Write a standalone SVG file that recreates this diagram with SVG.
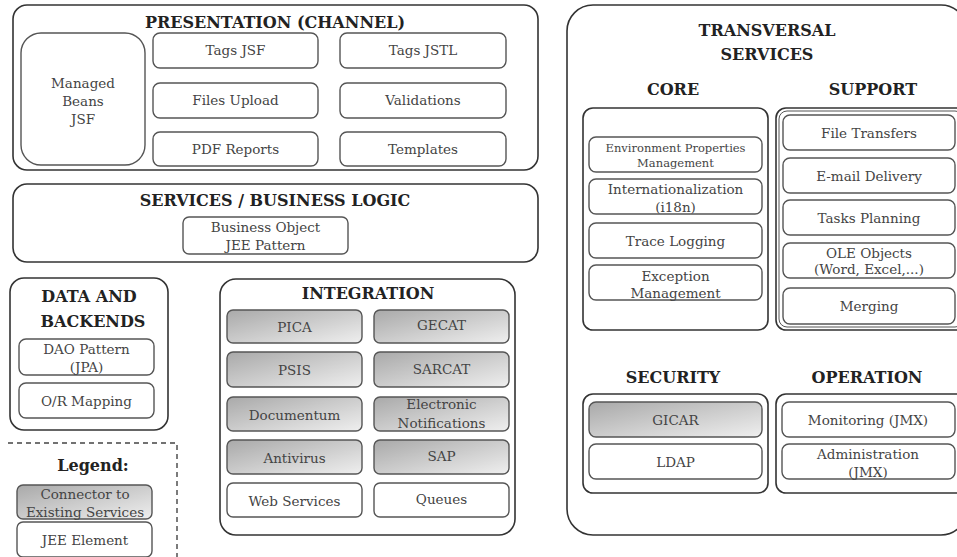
<svg xmlns="http://www.w3.org/2000/svg" width="957" height="557" viewBox="0 0 957 557">
<defs>
<linearGradient id="grad" x1="0" y1="0" x2="1" y2="1">
<stop offset="0" stop-color="#a9a9a9"/>
<stop offset="1" stop-color="#efefef"/>
</linearGradient>
<style>
.outer{fill:#fff;stroke:#333;stroke-width:1.6}
.item{fill:#fff;stroke:#555;stroke-width:1.4}
.conn{fill:url(#grad);stroke:#555;stroke-width:1.4}
.title{font-family:"DejaVu Serif","Liberation Serif",serif;font-weight:bold;font-size:16px;fill:#222;text-anchor:middle}
.t{font-family:"DejaVu Serif","Liberation Serif",serif;font-size:13.5px;fill:#444;text-anchor:middle}
.ts{font-family:"DejaVu Serif","Liberation Serif",serif;font-size:11.5px;fill:#444;text-anchor:middle}
.dash{fill:none;stroke:#444;stroke-width:1.4;stroke-dasharray:5,4}
</style>
</defs>
<rect width="957" height="557" fill="#fff"/>

<g id="presentation">
<rect class="outer" x="13" y="5" width="525" height="165" rx="14"/>
<text class="title" x="275" y="28">PRESENTATION (CHANNEL)</text>
<g id="managed-beans">
<rect class="item" x="21" y="33" width="124" height="132" rx="20"/>
<text class="t" x="83" y="88">Managed</text>
<text class="t" x="83" y="106">Beans</text>
<text class="t" x="83" y="124">JSF</text>
</g>
<g id="tags-jsf"><rect class="item" x="153" y="33" width="165" height="35" rx="7"/><text class="t" x="235.5" y="55">Tags JSF</text></g>
<g id="tags-jstl"><rect class="item" x="340" y="33" width="166" height="35" rx="7"/><text class="t" x="423" y="55">Tags JSTL</text></g>
<g id="files-upload"><rect class="item" x="153" y="83" width="165" height="35" rx="7"/><text class="t" x="235.5" y="105">Files Upload</text></g>
<g id="validations"><rect class="item" x="340" y="83" width="166" height="35" rx="7"/><text class="t" x="423" y="105">Validations</text></g>
<g id="pdf-reports"><rect class="item" x="153" y="132" width="165" height="34" rx="7"/><text class="t" x="235.5" y="154">PDF Reports</text></g>
<g id="templates"><rect class="item" x="340" y="132" width="166" height="34" rx="7"/><text class="t" x="423" y="154">Templates</text></g>
</g>

<g id="services">
<rect class="outer" x="13" y="184" width="525" height="78" rx="14"/>
<text class="title" x="275" y="206">SERVICES / BUSINESS LOGIC</text>
<g id="business-object">
<rect class="item" x="183" y="217" width="165" height="37" rx="6"/>
<text class="t" x="265.5" y="232">Business Object</text>
<text class="t" x="265.5" y="250">JEE Pattern</text>
</g>
</g>

<g id="data-backends">
<rect class="outer" x="10" y="278" width="158" height="152" rx="14"/>
<text class="title" x="89" y="302">DATA AND</text>
<text class="title" x="93" y="327">BACKENDS</text>
<g id="dao"><rect class="item" x="19" y="339" width="135" height="36" rx="7"/><text class="t" x="86.5" y="354">DAO Pattern</text><text class="t" x="86.5" y="372">(JPA)</text></g>
<g id="or-mapping"><rect class="item" x="19" y="383" width="135" height="35" rx="7"/><text class="t" x="86.5" y="406">O/R Mapping</text></g>
</g>

<g id="legend">
<path class="dash" d="M8,443 H177 V557"/>
<text class="title" x="93" y="471">Legend:</text>
<g id="legend-connector"><rect class="conn" x="17" y="485" width="135" height="34" rx="6"/><text class="t" x="85" y="499">Connector to</text><text class="t" x="85" y="517">Existing Services</text></g>
<g id="legend-jee"><rect class="item" x="17" y="522" width="135" height="35" rx="6"/><text class="t" x="85" y="545">JEE Element</text></g>
</g>

<g id="integration">
<rect class="outer" x="220" y="279" width="295" height="256" rx="16"/>
<text class="title" x="368" y="299">INTEGRATION</text>
<g id="pica"><rect class="conn" x="227" y="310" width="135" height="33" rx="6"/><text class="t" x="294.5" y="332">PICA</text></g>
<g id="gecat"><rect class="conn" x="374" y="310" width="135" height="33" rx="6"/><text class="t" x="441.5" y="330">GECAT</text></g>
<g id="psis"><rect class="conn" x="227" y="352" width="135" height="35" rx="6"/><text class="t" x="294.5" y="375">PSIS</text></g>
<g id="sarcat"><rect class="conn" x="374" y="352" width="135" height="35" rx="6"/><text class="t" x="441.5" y="374">SARCAT</text></g>
<g id="documentum"><rect class="conn" x="227" y="397" width="135" height="34" rx="6"/><text class="t" x="294.5" y="420">Documentum</text></g>
<g id="electronic-notifications"><rect class="conn" x="374" y="397" width="135" height="34" rx="6"/><text class="t" x="441.5" y="409">Electronic</text><text class="t" x="441.5" y="428">Notifications</text></g>
<g id="antivirus"><rect class="conn" x="227" y="440" width="135" height="34" rx="6"/><text class="t" x="294.5" y="463">Antivirus</text></g>
<g id="sap"><rect class="conn" x="374" y="440" width="135" height="34" rx="6"/><text class="t" x="441.5" y="461">SAP</text></g>
<g id="web-services"><rect class="item" x="227" y="483" width="135" height="34" rx="6"/><text class="t" x="294.5" y="506">Web Services</text></g>
<g id="queues"><rect class="item" x="374" y="483" width="135" height="34" rx="6"/><text class="t" x="441.5" y="504">Queues</text></g>
</g>

<g id="transversal">
<rect class="outer" x="567" y="5" width="400" height="530" rx="26"/>
<text class="title" x="767" y="36">TRANSVERSAL</text>
<text class="title" x="767" y="60">SERVICES</text>
<text class="title" x="673" y="95">CORE</text>
<text class="title" x="873" y="95">SUPPORT</text>

<g id="core">
<rect class="outer" x="583" y="108" width="185" height="222" rx="10"/>
<g id="env-props"><rect class="item" x="589" y="137" width="173" height="35" rx="7"/><text class="ts" x="675.5" y="152">Environment Properties</text><text class="ts" x="675.5" y="167">Management</text></g>
<g id="i18n"><rect class="item" x="589" y="179" width="173" height="35" rx="7"/><text class="t" x="675.5" y="194">Internationalization</text><text class="t" x="675.5" y="212">(i18n)</text></g>
<g id="trace-logging"><rect class="item" x="589" y="223" width="173" height="35" rx="7"/><text class="t" x="675.5" y="246">Trace Logging</text></g>
<g id="exception"><rect class="item" x="589" y="265" width="173" height="35" rx="7"/><text class="t" x="675.5" y="281">Exception</text><text class="t" x="675.5" y="298">Management</text></g>
</g>

<g id="support">
<rect class="outer" x="776" y="108" width="190" height="222" rx="10"/>
<rect fill="none" stroke="#555" stroke-width="1" x="779" y="111" width="184" height="216" rx="8"/>
<g id="file-transfers"><rect class="item" x="783" y="115" width="172" height="35" rx="7"/><text class="t" x="869" y="138">File Transfers</text></g>
<g id="email"><rect class="item" x="783" y="158" width="172" height="35" rx="7"/><text class="t" x="869" y="181">E-mail Delivery</text></g>
<g id="tasks"><rect class="item" x="783" y="200" width="172" height="35" rx="7"/><text class="t" x="869" y="223">Tasks Planning</text></g>
<g id="ole"><rect class="item" x="783" y="243" width="172" height="35" rx="7"/><text class="t" x="869" y="258">OLE Objects</text><text class="t" x="869" y="274">(Word, Excel,...)</text></g>
<g id="merging"><rect class="item" x="783" y="288" width="172" height="36" rx="7"/><text class="t" x="869" y="311">Merging</text></g>
</g>

<text class="title" x="673" y="383">SECURITY</text>
<text class="title" x="867" y="383">OPERATION</text>

<g id="security">
<rect class="outer" x="583" y="394" width="185" height="99" rx="10"/>
<g id="gicar"><rect class="conn" x="589" y="402" width="173" height="35" rx="7"/><text class="t" x="675.5" y="425">GICAR</text></g>
<g id="ldap"><rect class="item" x="589" y="444" width="173" height="35" rx="7"/><text class="t" x="675.5" y="467">LDAP</text></g>
</g>

<g id="operation">
<rect class="outer" x="776" y="394" width="190" height="99" rx="10"/>
<g id="monitoring"><rect class="item" x="782" y="402" width="173" height="35" rx="7"/><text class="t" x="868" y="425">Monitoring (JMX)</text></g>
<g id="administration"><rect class="item" x="782" y="444" width="173" height="35" rx="7"/><text class="t" x="868" y="459">Administration</text><text class="t" x="868" y="477">(JMX)</text></g>
</g>
</g>

<g id="connectors"></g>
</svg>
